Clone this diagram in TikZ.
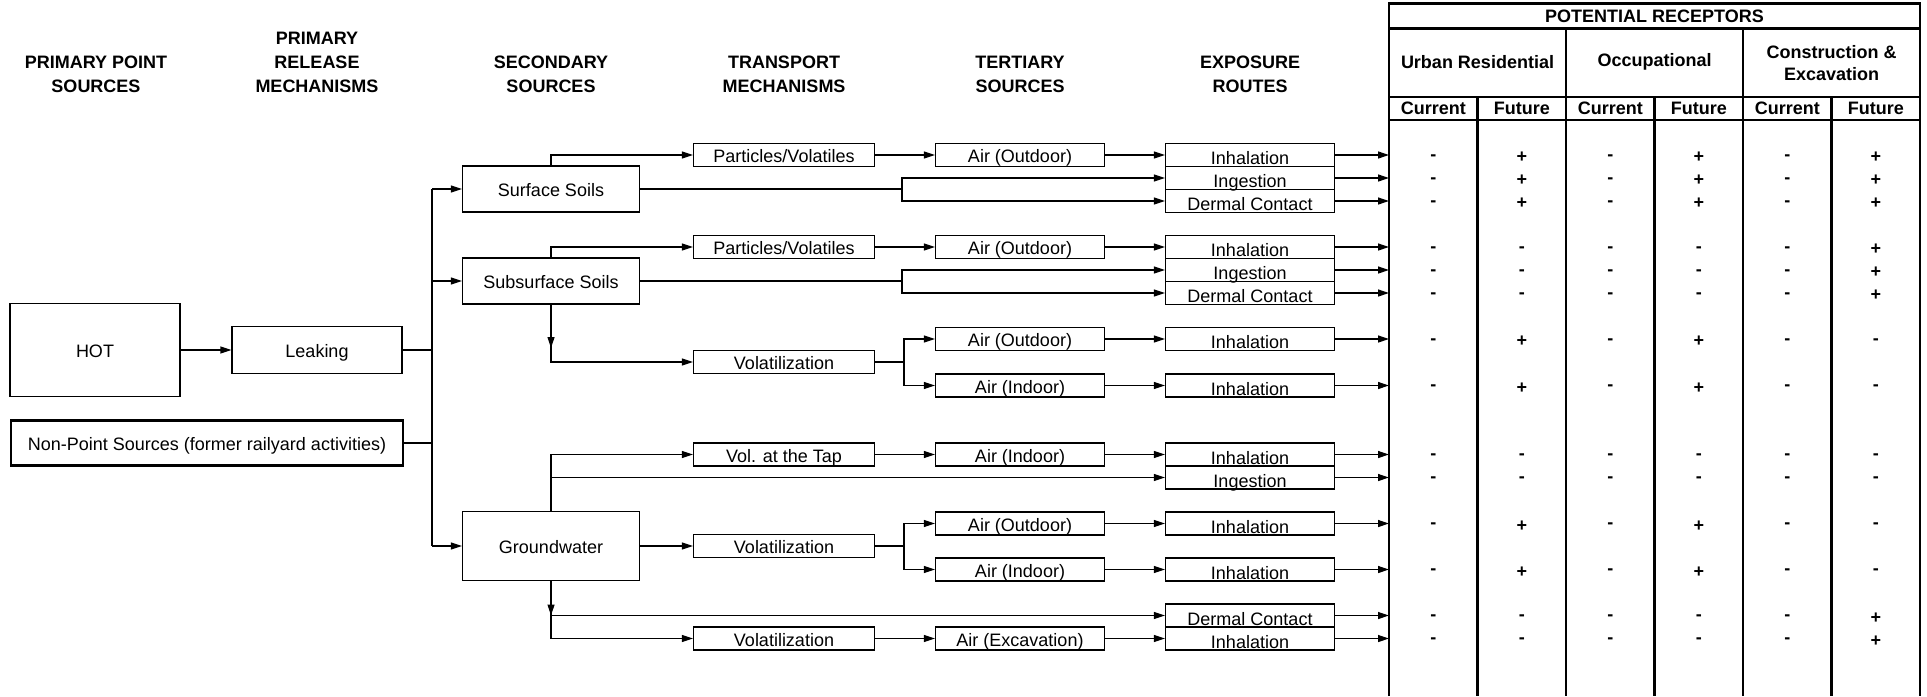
\documentclass[tikz,border=0pt]{standalone}
\usepackage{fontspec}
\setmainfont{Liberation Sans}
\usetikzlibrary{arrows.meta,calc}

\tikzset{
  box/.style={draw, line width=1.2pt, inner sep=0pt, text height=17pt, text depth=2pt, font=\fontsize{18}{22}\selectfont},
  src/.style={box, minimum width=177pt, minimum height=46pt},
  mech/.style={box, minimum width=181pt, minimum height=23pt},
  tert/.style={box, minimum width=169pt, minimum height=23pt},
  route/.style={box, minimum width=169pt, minimum height=23pt, text height=20pt, text depth=1pt},
  hdr/.style={align=center, font=\bfseries\fontsize{18}{24}\selectfont},
  thd/.style={align=center, font=\bfseries\fontsize{18}{22}\selectfont},
  mk/.style={font=\bfseries\fontsize{18}{22}\selectfont},
  arr/.style={line width=1.2pt, -{Triangle[length=11pt,width=7pt]}},
  ln/.style={line width=1.2pt},
  tbl/.style={line width=2.2pt}
}

\begin{document}
\begin{tikzpicture}[x=1pt,y=-1pt]
\useasboundingbox (0,0) rectangle (1927,696);
% column heads
\node[hdr] (hpp) at (96,74) {PRIMARY POINT\\SOURCES};
\node[hdr] (hpr) at (317,62) {PRIMARY\\RELEASE\\MECHANISMS};
\node[hdr] (hss) at (551,74) {SECONDARY\\SOURCES};
\node[hdr] (htm) at (784,74) {TRANSPORT\\MECHANISMS};
\node[hdr] (hts) at (1020,74) {TERTIARY\\SOURCES};
\node[hdr] (her) at (1250,74) {EXPOSURE\\ROUTES};

% sources
\node[box, minimum width=170pt, minimum height=93pt] (hot) at (95,350) {HOT};
\node[box, minimum width=170pt, minimum height=47pt] (leak) at (317,350) {Leaking};
\node[box, line width=2.2pt, minimum width=392pt, minimum height=45pt] (nps) at (207,443) {Non-Point Sources (former railyard activities)};
\node[src] (surf) at (551,189) {Surface Soils};
\node[src] (subs) at (551,281) {Subsurface Soils};
\node[src, minimum height=69pt] (gw) at (551,546) {Groundwater};

% transport
\node[mech] (pv1) at (784,155) {Particles/Volatiles};
\node[mech] (pv2) at (784,247) {Particles/Volatiles};
\node[mech] (vol1) at (784,362) {Volatilization};
\node[mech] (tap) at (784,454.5) {Vol. at the Tap};
\node[mech] (vol2) at (784,546) {Volatilization};
\node[mech] (vol3) at (784,638.5) {Volatilization};

% tertiary
\node[tert] (ao1) at (1020,155) {Air (Outdoor)};
\node[tert] (ao2) at (1020,247) {Air (Outdoor)};
\node[tert] (ao3) at (1020,339) {Air (Outdoor)};
\node[tert] (ai1) at (1020,385.5) {Air (Indoor)};
\node[tert] (ai2) at (1020,454.5) {Air (Indoor)};
\node[tert] (ao4) at (1020,523.5) {Air (Outdoor)};
\node[tert] (ai3) at (1020,569.5) {Air (Indoor)};
\node[tert] (aex) at (1020,638.5) {Air (Excavation)};

% exposure routes
\node[route] (e1a) at (1250,155) {Inhalation};
\node[route] (e1b) at (1250,178) {Ingestion};
\node[route] (e1c) at (1250,201) {Dermal Contact};
\node[route] (e2a) at (1250,247) {Inhalation};
\node[route] (e2b) at (1250,270) {Ingestion};
\node[route] (e2c) at (1250,293) {Dermal Contact};
\node[route] (e3) at (1250,339) {Inhalation};
\node[route] (e4) at (1250,385.5) {Inhalation};
\node[route] (e5a) at (1250,454.5) {Inhalation};
\node[route] (e5b) at (1250,477.5) {Ingestion};
\node[route] (e6) at (1250,523.5) {Inhalation};
\node[route] (e7) at (1250,569.5) {Inhalation};
\node[route] (e8a) at (1250,615.5) {Dermal Contact};
\node[route] (e8b) at (1250,638.5) {Inhalation};

% release
\coordinate (bt) at (432,189);
\coordinate (bb) at (432,546);
\draw[arr] (hot) -- (leak);
\draw[ln] (bt) -- (bb);
\draw[ln] (leak) -- (leak -| bt);
\draw[ln] (nps) -- (nps -| bt);
\draw[arr] (bt) -- (surf);
\draw[arr] (subs -| bt) -- (subs);
\draw[arr] (bb) -- (gw);

% surface soils
\coordinate (j1) at (902,189);
\draw[arr] (surf.north) |- (pv1);
\draw[arr] (pv1) -- (ao1);
\draw[arr] (ao1) -- (e1a);
\draw[ln] (surf) -- (j1);
\draw[arr] (j1) |- (e1b);
\draw[arr] (j1) |- (e1c);

% subsurface soils
\coordinate (j2) at (902,281);
\coordinate (k1) at (subs.south |- vol1);
\coordinate (j3) at (904,362);
\draw[arr] (subs.north) |- (pv2);
\draw[arr] (pv2) -- (ao2);
\draw[arr] (ao2) -- (e2a);
\draw[ln] (subs) -- (j2);
\draw[arr] (j2) |- (e2b);
\draw[arr] (j2) |- (e2c);
\draw[arr] (subs.south) |- (vol1);
\draw[arr] (subs.south) -- ([yshift=14pt]k1);
\draw[ln] (vol1) -- (j3);
\draw[arr] (j3) |- (ao3);
\draw[arr] (j3) |- (ai1);
\draw[arr] (ao3) -- (e3);
\draw[arr] (ai1) -- (e4);

% groundwater
\coordinate (j4) at (904,546);
\draw[arr] (gw.north) |- (tap);
\draw[arr] (gw.north |- e5b) -- (e5b);
\draw[arr] (tap) -- (ai2);
\draw[arr] (ai2) -- (e5a);
\draw[arr] (gw) -- (vol2);
\draw[ln] (vol2) -- (j4);
\draw[arr] (j4) |- (ao4);
\draw[arr] (j4) |- (ai3);
\draw[arr] (ao4) -- (e6);
\draw[arr] (ai3) -- (e7);
\draw[arr] (gw.south) |- (vol3);
\draw[arr] (gw.south) -- (gw.south |- e8a);
\draw[arr] (gw.south |- e8a) -- (e8a);
\draw[arr] (vol3) -- (aex);
\draw[arr] (aex) -- (e8b);

% receptors table
\coordinate (tl) at (1389,3.5);
\draw[tbl] (1389,696) -- (tl) -- (1920,3.5) -- (1920,696);
\draw[tbl] (1389,28.5) -- (1920,28.5);
\draw[tbl] (1389,97) -- (1920,97);
\draw[tbl] (1389,120) -- (1920,120);
\foreach \x in {1566,1743} \draw[tbl] (\x,28.5) -- (\x,696);
\foreach \x in {1477.5,1654.5,1831.5} \draw[tbl] (\x,97) -- (\x,696);
\node[thd] (rcp) at (1654.5,16) {POTENTIAL RECEPTORS};
\node[thd] (urb) at (1477.5,62) {Urban Residential};
\node[thd] (occ) at (1654.5,62) {Occupational};
\node[thd] (con) at (1831.5,63) {Construction \&\\Excavation};
\foreach \x [count=\i] in {1433.25,1610.25,1787.25} {
  \node[thd] (cur\i) at (\x,108.5) {Current};
  \node[thd] (fut\i) at (\x+88.5,108.5) {Future};
}

\foreach \e in {e1a,e1b,e1c,e2a,e2b,e2c,e3,e4,e5a,e5b,e6,e7,e8a,e8b}
  \draw[arr] (\e.east) -- (\e.east -| tl);

\foreach \e/\row in {e1a/{-,+,-,+,-,+},e1b/{-,+,-,+,-,+},e1c/{-,+,-,+,-,+},
    e2a/{-,-,-,-,-,+},e2b/{-,-,-,-,-,+},e2c/{-,-,-,-,-,+},
    e3/{-,+,-,+,-,-},e4/{-,+,-,+,-,-},
    e5a/{-,-,-,-,-,-},e5b/{-,-,-,-,-,-},
    e6/{-,+,-,+,-,-},e7/{-,+,-,+,-,-},
    e8a/{-,-,-,-,-,+},e8b/{-,-,-,-,-,+}} {
  \foreach \m [count=\i] in \row
    \node[mk] (\e-\i) at ($(\e.east -| tl)+(88.5*\i-44.25,2.5)$) {\m};
}
\end{tikzpicture}
\end{document}
